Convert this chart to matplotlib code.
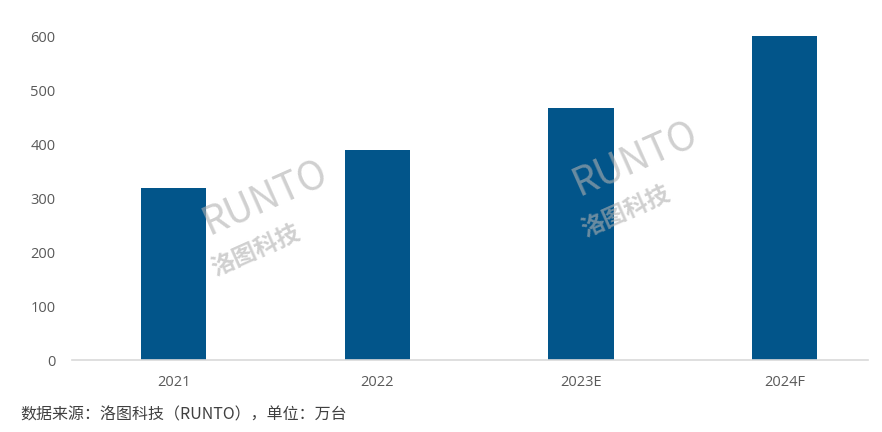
import matplotlib
matplotlib.use('Agg')
import matplotlib.pyplot as plt

years = ['2021', '2022', '2023E', '2024F']
shipments = [318, 389, 467, 600]
yticks = [0, 100, 200, 300, 400, 500, 600]

plt.rcParams['font.family'] = ['Noto Sans CJK SC', 'DejaVu Sans']

fig = plt.figure(figsize=(8.82, 4.32), dpi=100)
ax = fig.add_axes([72/882, 1 - 360/432, (868 - 72)/882, (360 - 36)/432])

x = range(len(years))
ax.bar(x, shipments, width=0.32, color='#02558A', zorder=2)

ax.set_xlim(-0.5, 3.41)
ax.set_ylim(0, 600)
ax.set_xticks(list(x))
ax.set_xticklabels(years, fontsize=10.5, color='#595959', family=['Open Sans', 'DejaVu Sans'])
ax.set_yticks(yticks)
ax.set_yticklabels([str(v) for v in yticks], fontsize=10.5, color='#595959',
                   family=['Open Sans', 'DejaVu Sans'])
ax.tick_params(axis='both', length=0)
ax.tick_params(axis='x', pad=11)
ax.tick_params(axis='y', pad=12)
for side in ['top', 'right', 'left']:
    ax.spines[side].set_visible(False)
ax.spines['bottom'].set_color('#D9D9D9')
ax.spines['bottom'].set_linewidth(1.2)

# faint watermarks
for (wx, wy) in [(0.30, 0.54), (0.72, 0.63)]:
    fig.text(wx, wy, 'RUNTO', fontsize=28, color='#B0B0B0', alpha=0.6, rotation=24,
             style='italic', ha='center', va='center', zorder=5)
    fig.text(wx - 0.01, wy - 0.12, '洛图科技', fontsize=17, color='#B0B0B0', alpha=0.6,
             rotation=24, fontweight='bold', ha='center', va='center', zorder=5)

fig.text(20/882, 1 - 415/432, '数据来源：洛图科技（RUNTO），单位：万台', fontsize=11.5,
         color='#404040', ha='left', va='center')

fig.savefig('out.png', dpi=100)
